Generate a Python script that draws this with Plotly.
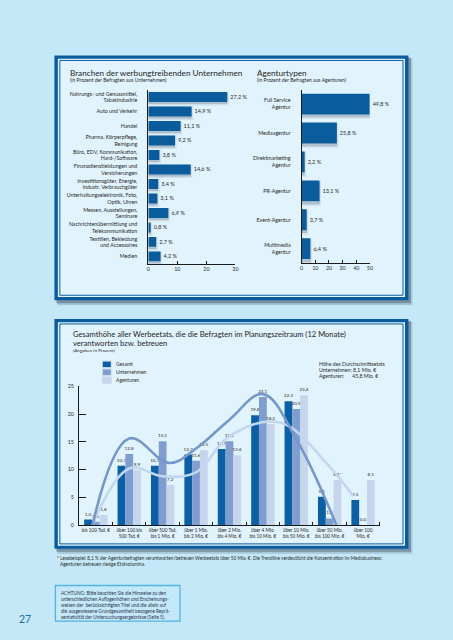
import plotly.graph_objects as go

W, H = 453, 640
def X(px): return px / W
def Y(py): return 1 - py / H

FONT = "Lato"
TXT = "#2b2b2b"
DARK = "#0b5c9c"

# ---------------- data ----------------
branchen = ["Nahrungs- und Genussmittel,<br>Tabakindustrie", "Auto und Verkehr", "Handel",
            "Pharma, Körperpflege,<br>Reinigung", "Büro, EDV, Kommunikation,<br>Hard-/Software",
            "Finanzdienstleistungen und<br>Versicherungen", "Investitionsgüter, Energie,<br>industr. Verbrauchgüter",
            "Unterhaltungselektronik, Foto,<br>Optik, Uhren", "Messen, Ausstellungen,<br>Seminare",
            "Nachrichtenübermittlung und<br>Telekommunikation", "Textilien, Bekleidung<br>und Accessoires", "Medien"]
branchen_werte = [27.2, 14.9, 11.1, 9.2, 3.8, 14.6, 3.4, 3.1, 6.9, 0.8, 2.7, 4.2]
branchen_ticks = [0, 10, 20, 30]

agenturtypen = ["Full Service<br>Agentur", "Mediaagentur", "Direktmarketing<br>Agentur",
                "PR-Agentur", "Event-Agentur", "Multimedia<br>Agentur"]
agentur_werte = [49.8, 25.8, 2.2, 13.1, 3.7, 6.4]
agentur_ticks = [0, 10, 20, 30, 40, 50]

etat_klassen = ["bis 100 Tsd. €", "über 100 bis<br>500 Tsd. €", "über 500 Tsd.<br>bis 1 Mio. €",
                "über 1 Mio.<br>bis 2 Mio. €", "über 2 Mio.<br>bis 4 Mio. €", "über 4 Mio.<br>bis 10 Mio. €",
                "über 10 Mio.<br>bis 50 Mio. €", "über 50 Mio.<br>bis 100 Mio. €", "über 100<br>Mio. €"]
gesamt = [1.0, 10.7, 10.7, 12.7, 13.7, 19.8, 22.3, 5.1, 4.5]
unternehmen = [0.6, 12.8, 15.1, 11.6, 15.1, 23.1, 20.9, 1.2, 0.0]
agenturen = [1.8, 9.9, 7.2, 13.5, 12.6, 18.2, 23.4, 8.1, 8.1]
agenturen_suffix = ["", "", "", "", "", "", "", "*", ""]
etat_ticks = [0, 5, 10, 15, 20, 25]

# trend lines (x in class index units)
trend_unt_x = [-0.1, 1.0, 2.2, 3.0, 4.0, 5.0, 6.0, 7.2]
trend_unt_y = [0.0, 15.6, 11.2, 13.8, 19.0, 23.6, 15.5, 0.0]
trend_ag_x = [-0.1, 1.0, 2.0, 3.0, 4.0, 5.5, 7.0, 7.7]
trend_ag_y = [0.0, 10.2, 8.8, 9.5, 16.0, 18.5, 10.5, 5.2]

def de(v):
    return f"{v:.1f}".replace(".", ",")

C_GES = "#0b5fa5"
C_UNT = "#7f9ecf"
C_AG = "#c6d5ec"
SHADOW = "rgba(40,60,90,0.22)"
SHADOW_EDGE = "rgba(40,60,90,0.10)"

fig = go.Figure()

# top-left bars (soft shadow + bar)
fig.add_trace(go.Bar(
    y=branchen, x=branchen_werte, orientation="h", xaxis="x", yaxis="y",
    marker=dict(color=SHADOW, line=dict(width=3, color=SHADOW_EDGE)), offset=-0.25, width=0.72,
    showlegend=False, hoverinfo="skip"))
fig.add_trace(go.Bar(
    y=branchen, x=branchen_werte, orientation="h", xaxis="x", yaxis="y",
    marker=dict(color=DARK, line=dict(width=0)), offset=-0.35, width=0.68,
    text=[de(v) + " %" for v in branchen_werte], textposition="outside",
    textfont=dict(family=FONT, size=5.5, color=TXT), cliponaxis=False, constraintext="none",
    showlegend=False, hoverinfo="skip"))

# top-right bars
fig.add_trace(go.Bar(
    y=agenturtypen, x=agentur_werte, orientation="h", xaxis="x2", yaxis="y2",
    marker=dict(color=SHADOW, line=dict(width=3, color=SHADOW_EDGE)), offset=-0.28, width=0.74,
    showlegend=False, hoverinfo="skip"))
fig.add_trace(go.Bar(
    y=agenturtypen, x=agentur_werte, orientation="h", xaxis="x2", yaxis="y2",
    marker=dict(color=DARK, line=dict(width=0)), offset=-0.36, width=0.72,
    text=[de(v) + " %" for v in agentur_werte], textposition="outside",
    textfont=dict(family=FONT, size=5.5, color=TXT), cliponaxis=False, constraintext="none",
    showlegend=False, hoverinfo="skip"))

# bottom grouped bars
xs = list(range(len(etat_klassen)))
for vals, col, suf in [(gesamt, C_GES, None), (unternehmen, C_UNT, None), (agenturen, C_AG, agenturen_suffix)]:
    labels = [de(v) + (suf[i] if suf else "") for i, v in enumerate(vals)]
    fig.add_trace(go.Bar(
        x=xs, y=vals, xaxis="x3", yaxis="y3",
        marker=dict(color=col, line=dict(width=0)),
        text=labels, textposition="outside",
        textfont=dict(family=FONT, size=4.6, color=TXT), cliponaxis=False, constraintext="none",
        showlegend=False, hoverinfo="skip"))

fig.add_trace(go.Scatter(x=trend_ag_x, y=trend_ag_y, xaxis="x3", yaxis="y3", mode="lines",
                         line=dict(color="#c3d7f0", width=2.6, shape="spline", smoothing=1.1),
                         showlegend=False, hoverinfo="skip"))
fig.add_trace(go.Scatter(x=trend_unt_x, y=trend_unt_y, xaxis="x3", yaxis="y3", mode="lines",
                         line=dict(color="#7597c9", width=2.6, shape="spline", smoothing=1.1),
                         showlegend=False, hoverinfo="skip"))

# ---------------- shapes (frames) ----------------
shapes = []
def rect(x0, y0, x1, y1, fill=None, line=None, lw=0, layer="below"):
    shapes.append(dict(type="rect", xref="paper", yref="paper", x0=X(x0), x1=X(x1), y0=Y(y1), y1=Y(y0),
                       fillcolor=fill or "rgba(0,0,0,0)", line=dict(color=line or "rgba(0,0,0,0)", width=lw),
                       layer=layer))

INNER = "#e1f3fc"
for (t, b) in [(53, 300), (319, 551)]:
    rect(56, t + 3, 415, b + 5, fill="rgba(30,50,70,0.18)")
    rect(55, t + 2, 413.5, b + 3, fill="rgba(30,50,70,0.35)")
    rect(53, t, 411, b, fill=DARK)
    rect(56.5, t + 3.2, 407.5, b - 3.2, fill=INNER)
    rect(58.5, t + 5, 405.5, b - 5, line=DARK, lw=1)

# ACHTUNG box
rect(54, 588, 180, 624, line="#4fb4e6", lw=1.3)

# legend squares
for i, col in enumerate([C_GES, C_UNT, C_AG]):
    rect(101, 361 + 8 * i, 111, 368.5 + 8 * i, fill="rgba(40,60,90,0.12)")
    rect(102, 362 + 8 * i, 110, 367.5 + 8 * i, fill=col, layer="above")

# ---------------- annotations ----------------
ann = []
def text(x, y, s, size, color=TXT, xanchor="left", family=FONT):
    ann.append(dict(xref="paper", yref="paper", x=X(x), y=Y(y), text=s, showarrow=False,
                    xanchor=xanchor, yanchor="middle", align=xanchor if xanchor != "middle" else "center",
                    font=dict(family=family, size=size, color=color)))

text(67, 70.5, "Branchen der werbungtreibenden Unternehmen", 8.2, "#1f1f1f")
text(67, 78, "(in Prozent der Befragten aus Unternehmen)", 5.0)
text(256, 70.5, "Agenturtypen", 8.2, "#1f1f1f")
text(256, 78, "(in Prozent der Befragten aus Agenturen)", 5.0)

text(70, 334, "Gesamthöhe aller Werbeetats, die die Befragten im Planungszeitraum (12 Monate)", 7.6, "#1f1f1f")
text(70, 343, "verantworten bzw. betreuen", 7.6, "#1f1f1f")
text(70, 350, "(Angaben in Prozent)", 4.6)

for i, s in enumerate(["Gesamt", "Unternehmen", "Agenturen"]):
    text(113, 364.5 + 8 * i, s, 5.0)

text(319, 364, "Höhe des Durchschnittsetats", 5.2)
text(319, 370.5, "Unternehmen: 8,1 Mio. €", 5.2)
text(319, 377, "Agenturen:      45,8 Mio. €", 5.2)

text(54, 560, "* Lesebeispiel: 8,1 % der Agenturbefragten verantworten/betreuen Werbeetats über 50 Mio. €. "
              "Die Trendline verdeutlicht die Konzentration im Mediabusiness:", 4.7)
text(57, 566.5, "Agenturen betreuen riesige Etatvolumina.", 4.7)

achtung = ["ACHTUNG: Bitte beachten Sie die Hinweise zu den",
           "unterschiedlichen Auflagenhöhen und Erscheinungs-",
           "weisen der  berücksichtigten Titel und die allein auf",
           "die ausgewiesene Grundgesamtheit bezogene Reprä-",
           "sentativität der Untersuchungsergebnisse (Seite 5)."]
for i, s in enumerate(achtung):
    text(57.5, 596 + 6 * i, s, 4.7, "#2a3550")

text(15, 622, "27", 10.5, "#1c6ea4")

# ---------------- layout ----------------
axis_font = dict(family=FONT, size=5.3, color=TXT)
line_col = "#1a1a1a"
fig.update_layout(
    width=W, height=H, autosize=False,
    margin=dict(l=0, r=0, t=0, b=0, pad=0),
    paper_bgcolor="#c5e8f8", plot_bgcolor="rgba(0,0,0,0)",
    shapes=shapes, annotations=ann,
    bargap=0.3,
    barmode="group",
    xaxis=dict(domain=[X(148), X(236)], range=[0, 30], anchor="y", showgrid=False, zeroline=False,
               showline=True, linecolor=line_col, linewidth=1, ticks="inside", ticklen=3, tickcolor=line_col,
               tickvals=branchen_ticks, tickfont=axis_font, fixedrange=True),
    yaxis=dict(domain=[Y(263.3), Y(87.7)], anchor="x", categoryorder="array", categoryarray=branchen,
               autorange="reversed", showgrid=False, zeroline=False, showline=True, linecolor=line_col,
               linewidth=1, ticks="", tickfont=axis_font, ticklabelstandoff=9),
    xaxis2=dict(domain=[X(303), X(372)], range=[0, 50], anchor="y2", showgrid=False, zeroline=False,
                showline=True, linecolor=line_col, linewidth=1, ticks="inside", ticklen=3, tickcolor=line_col,
                tickvals=agentur_ticks, tickfont=axis_font),
    yaxis2=dict(domain=[Y(262.6), Y(87.4)], anchor="x2", categoryorder="array", categoryarray=agenturtypen,
                autorange="reversed", showgrid=False, zeroline=False, showline=True, linecolor=line_col,
                linewidth=1, ticks="", tickfont=axis_font, ticklabelstandoff=9),
    xaxis3=dict(domain=[X(78), X(382)], range=[-0.5, 8.5], anchor="y3", showgrid=False, zeroline=False,
                showline=True, linecolor=line_col, linewidth=1.3, ticks="", tickvals=xs, ticktext=etat_klassen,
                tickfont=dict(family=FONT, size=4.7, color=TXT), ticklabelstandoff=0,
                minor=dict(tickvals=[i + 0.5 for i in xs], ticks="inside", ticklen=3, tickcolor=line_col,
                           showgrid=False)),
    yaxis3=dict(domain=[Y(527), Y(387)], range=[0, 25], anchor="x3", showgrid=False, zeroline=False,
                showline=True, linecolor=line_col, linewidth=1.3, ticks="inside", ticklen=7, tickwidth=1.3,
                tickcolor=line_col, tickvals=etat_ticks, tickfont=dict(family=FONT, size=5.3, color=TXT),
                ticklabelstandoff=3),
)

fig.write_html("out.html", config={"displayModeBar": False},
               post_script="document.body.style.margin='0';")
